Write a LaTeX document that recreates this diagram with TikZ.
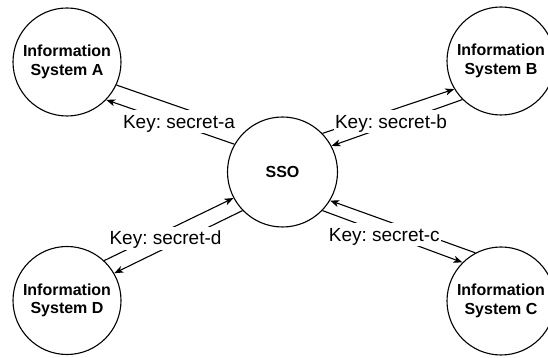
\documentclass[tikz,border=0pt]{standalone}
\usepackage{fontspec}
\setmainfont{Liberation Sans}
\usetikzlibrary{arrows.meta}
\frenchspacing

\begin{document}
\begin{tikzpicture}[x=1pt, y=1pt, line width=1.1pt,
    sys/.style={circle, draw, minimum size=108pt, inner sep=0pt, align=center,
      font=\fontsize{16}{18.5}\selectfont\bfseries},
    key/.style={fill=white, inner sep=1pt, text height=17pt, text depth=4pt, anchor=base,
      font=\fontsize{19}{22}\selectfont},
    tip/.style={-{Stealth[length=9pt, width=7pt, inset=2.5pt]}}]
  \useasboundingbox (0,0) rectangle (548,358);
  \node[sys] (A) at (67, 296) {Information\\System A};
  \node[sys] (B) at (501, 297) {Information\\System B};
  \node[sys] (C) at (501, 57) {Information\\System C};
  \node[sys] (D) at (67, 57.5) {Information\\System D};
  \node[sys, minimum size=110pt] (SSO) at (282.5, 186) {SSO};
  \draw[shorten >=12pt] (A.-25) -- (SSO.131);
  \draw[tip] (SSO.150) -- (A.-44);
  \draw[tip] (SSO.44) -- (B.211);
  \draw[tip] (B.225) -- (SSO.28);
  \draw[tip] (C.118) -- (SSO.-31);
  \draw[tip] (SSO.-44) -- (C.135);
  \draw[tip] (D.47) -- (SSO.208);
  \draw[tip] (SSO.224) -- (D.30);
  \node[key] (ka) at (179, 229.7) {Key: secret-a};
  \node[key] (kb) at (391, 229.7) {Key: secret-b};
  \node[key] (kc) at (384.3, 116.5) {Key: secret-c};
  \node[key] (kd) at (165.5, 113.2) {Key: secret-d};
\end{tikzpicture}
\end{document}
